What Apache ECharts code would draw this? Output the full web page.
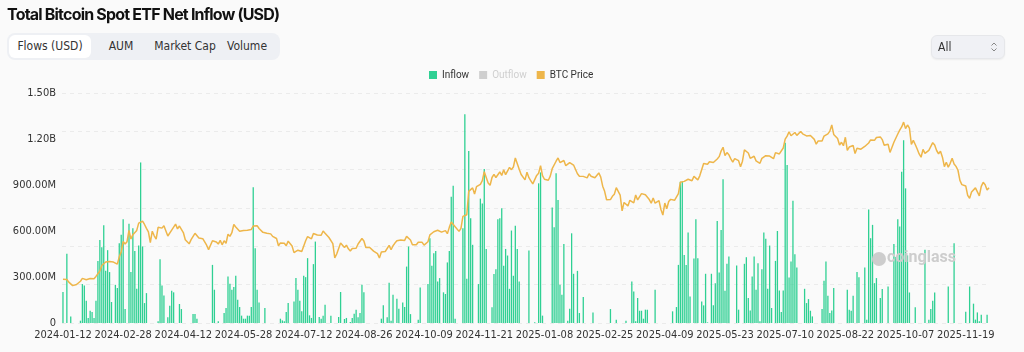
<!DOCTYPE html>
<html>
<head>
<meta charset="utf-8">
<script src="https://cdn.jsdelivr.net/npm/echarts@6/dist/echarts.min.js"></script>
<style>
  html, body { margin: 0; padding: 0; background: #fafafa; width: 1024px; height: 352px; overflow: hidden; font-family: Inter, "Noto Sans", sans-serif; }
  #chart { position: absolute; left: 0; top: 0; width: 1024px; height: 352px; }
  .title { position: absolute; left: 7px; top: 4px; font-size: 16px; font-weight: 700; color: #111; letter-spacing: -0.8px; z-index: 2; }
  .tabs { position: absolute; left: 7px; top: 33px; width: 273px; height: 27px; background: #eef0f4; border-radius: 8px; z-index: 2; }
  .tab { position: absolute; top: 2px; height: 23px; line-height: 23px; font-size: 12px; color: #333; text-align: center; font-family: "Liberation Sans Narrow", "DejaVu Sans Condensed", Roboto, sans-serif; }
  .tab.sel { background: #fff; border-radius: 6px; }
  .dd { position: absolute; left: 931px; top: 35px; width: 72px; height: 22px; background: #f0f1f5; border: 1px solid #e6e7ea; border-radius: 6px; z-index: 2; box-shadow: 0 1px 2px rgba(0,0,0,0.06); }
  .dd span { position: absolute; left: 6px; top: 0; line-height: 22px; font-size: 12px; color: #333; font-family: "Liberation Sans Narrow", "DejaVu Sans Condensed", Roboto, sans-serif; }
  .dd svg { position: absolute; left: 58px; top: 5px; }
</style>
</head>
<body>
<div id="chart"></div>
<div class="title">Total Bitcoin Spot ETF Net Inflow (USD)</div>
<div class="tabs">
  <div class="tab sel" style="left:2px;width:82px;">Flows (USD)</div>
  <div class="tab" style="left:90px;width:48px;">AUM</div>
  <div class="tab" style="left:145px;width:66px;">Market Cap</div>
  <div class="tab" style="left:215px;width:50px;">Volume</div>
</div>
<div class="dd"><span>All</span>
  <svg width="8" height="12" viewBox="0 0 8 12"><path d="M1.5 4.5 L4 2 L6.5 4.5 M1.5 7.5 L4 10 L6.5 7.5" stroke="#888" stroke-width="1" fill="none"/></svg>
</div>
<script>
// ---------- data ----------
const startDate = '2024-01-12';
const endDate = '2025-12-08';
const marketHolidays = ['2024-01-15','2024-02-19','2024-03-29','2024-05-27','2024-06-19','2024-07-04','2024-09-02','2024-11-28','2024-12-25',
  '2025-01-01','2025-01-09','2025-01-20','2025-02-17','2025-04-18','2025-05-26','2025-06-19','2025-07-04','2025-09-01','2025-11-27'];

// daily net inflow, millions USD (outflow days = 0 here; Outflow series is hidden in the reference)
const inflowM2024 = [
  202,0,451,0,43,0,0,0,0,15,
  254,245,145,33,80,72,33,145,405,542,
  494,637,340,475,332,137,0,249,228,520,
  575,676,91,0,648,332,618,470,223,505,
  1047,499,130,195,0,0,0,0,0,11,
  416,245,180,0,37,113,210,200,0,0,
  124,91,0,0,0,0,0,58,58,28,
  0,0,0,0,0,0,0,379,217,0,
  11,0,0,65,98,304,256,217,234,308,
  152,104,48,28,28,48,48,104,885,488,
  217,134,0,0,98,0,0,0,0,0,
  0,0,28,17,11,72,130,0,0,141,
  293,217,145,76,308,299,423,50,33,384,
  531,0,39,28,48,119,0,0,48,0,
  0,0,39,202,0,26,33,0,7,33,
  61,87,37,65,249,200,0,0,0,0,
  0,0,0,0,28,115,0,37,262,15,
  184,0,158,93,0,134,104,368,499,58,
  0,0,0,22,232,0,0,0,254,553,
  373,455,470,271,293,0,200,189,395,470,
  824,895,28,0,0,0,618,1362,288,1121,
  683,510,0,0,254,811,780,1004,483,0,
  0,102,319,351,676,683,748,373,483,440,
  223,603,308,635,483,271,0,0,0,0,
  473,0,0,5
];
const inflowM2025 = [
  0,911,982,48,0,0,0,0,754,624,
  976,802,249,184,516,0,15,93,585,321,
  0,340,65,0,169,0,0,0,0,69,
  0,0,0,0,0,0,0,0,91,0,
  0,22,0,0,0,0,15,0,0,271,
  206,11,163,80,80,28,87,87,0,0,
  0,217,0,0,0,0,0,0,0,0,
  76,0,104,379,921,921,444,379,590,173,
  0,421,676,423,0,141,115,321,4,0,
  321,115,260,666,330,607,937,210,386,434,
  0,0,0,375,87,0,0,386,429,163,
  82,304,434,217,390,11,351,590,549,223,
  505,98,0,405,600,212,72,212,1175,1030,
  297,401,798,449,362,0,0,0,223,130,
  156,80,43,0,0,0,0,91,275,401,
  178,65,82,228,0,0,0,0,0,0,
  217,87,80,178,0,332,299,0,0,362,
  22,741,553,640,260,293,0,163,221,0,
  0,238,0,0,516,430,676,629,986,1192,
  878,441,199,0,0,102,0,0,0,0,
  477,0,22,91,145,199,0,0,0,0,
  0,0,238,0,0,520,0,0,0,0,
  0,74,0,238,0,126,22,69,11,54,
  0,0,54,0
];
const outflowM = []; // not shown (legend item deselected)

// BTC price, thousands USD, one value per trading day
const btcK2024 = [
  42.8,43.1,42.7,41.3,41.6,39.5,39.8,40.1,40.0,41.8,43.3,43.0,42.6,
  43.1,43.2,42.7,43.1,44.3,45.3,47.1,50.0,49.7,51.8,52.0,52.1,52.3,51.8,51.3,50.7,54.5,57.1,62.5,61.2,
  62.4,68.3,63.8,66.1,66.9,68.3,72.1,71.5,73.1,71.4,69.4,67.6,62.0,67.9,65.5,63.8,69.9,69.9,69.5,70.7,
  69.7,65.4,66.0,68.5,67.8,71.6,69.1,70.6,70.0,67.2,63.4,63.8,61.3,63.5,63.8,66.8,66.4,64.3,64.5,64.0,63.4,60.6,
  58.3,59.1,62.9,63.2,62.3,61.2,63.1,60.8,62.9,61.6,66.3,65.2,67.1,71.4,70.1,69.1,67.9,68.5,68.3,67.6,68.4,67.5,
  68.8,70.6,71.1,70.8,69.3,69.6,67.3,68.2,66.8,66.0,66.5,65.2,64.9,64.1,60.3,61.8,60.9,61.6,60.3,
  62.7,62.0,60.2,56.7,57.0,58.0,57.7,57.3,57.9,62.9,65.1,64.1,63.9,66.7,67.6,65.9,65.4,65.8,68.0,66.8,66.2,64.6,
  65.4,61.4,54.0,56.0,55.0,61.7,60.9,59.4,60.6,58.7,57.6,58.9,59.5,59.0,61.2,60.4,64.1,62.8,59.4,59.0,59.4,59.1,
  57.5,58.0,56.2,53.9,57.0,57.6,57.3,58.1,60.5,58.2,60.3,61.7,62.9,63.2,63.3,64.3,63.1,65.2,65.8,63.3,
  60.8,60.6,60.8,62.1,62.2,62.1,60.6,60.3,62.4,66.0,67.0,67.6,67.4,68.4,67.4,67.4,66.6,68.2,66.6,69.9,72.7,72.3,70.2,
  69.5,67.8,69.4,75.6,75.9,76.5,88.7,88.0,90.5,87.3,91.1,90.5,92.3,94.3,98.9,98.9,93.0,91.9,95.9,97.5,
  95.9,96.0,98.8,97.0,99.9,97.4,96.7,101.2,100.0,101.4,106.1,106.1,100.2,97.5,97.8,94.7,98.7,95.8,94.2,92.6,93.4
];
const btcK2025 = [
  97.0,98.1,102.1,96.9,95.0,94.7,94.5,96.6,100.5,99.8,104.4,106.1,103.7,104.0,104.8,102.1,101.3,103.7,104.7,102.4,
  101.4,97.9,96.6,96.6,96.5,97.4,95.7,97.9,96.6,97.5,95.8,96.6,98.3,96.1,91.4,88.7,84.3,84.7,84.4,
  86.1,87.2,90.6,89.9,86.7,78.5,82.9,83.7,81.1,84.0,84.1,82.7,86.8,84.2,84.0,87.5,87.4,86.9,87.2,84.4,82.5,
  85.2,82.5,83.1,83.8,79.2,76.3,82.6,79.6,83.4,84.5,83.6,84.0,84.9,87.5,93.4,93.7,93.9,94.7,95.0,94.3,94.2,
  96.5,96.9,94.7,96.8,97.0,103.2,102.9,102.8,104.1,103.5,103.7,103.5,105.6,106.8,109.7,111.7,107.3,108.9,107.8,105.6,103.9,
  105.8,105.4,104.7,101.5,104.4,110.3,110.2,108.7,105.9,106.1,107.0,104.6,104.9,103.3,105.9,105.9,107.3,106.9,107.1,107.1,
  105.7,108.9,109.6,108.2,108.9,111.3,115.9,117.5,119.8,117.7,118.7,119.4,117.9,117.4,119.9,118.7,118.3,117.6,117.9,117.8,117.8,115.8,
  113.3,115.0,114.1,115.0,117.5,116.7,118.7,120.1,123.3,118.4,117.4,116.3,112.9,114.3,112.5,116.9,110.1,111.8,111.3,112.6,108.4,
  111.2,111.7,110.7,110.7,112.1,111.5,113.9,115.5,116.1,115.3,116.8,116.5,117.1,115.7,112.7,112.0,113.3,109.0,109.7,114.3,114.1,
  118.6,120.6,122.3,124.8,121.4,123.3,121.7,113.2,115.3,113.1,110.8,108.2,106.5,110.6,108.5,107.6,110.1,111.0,114.1,112.9,110.0,108.3,109.6,
  106.5,101.6,103.9,101.3,103.3,105.9,103.0,101.7,99.7,94.4,92.2,92.9,91.5,86.6,85.1,88.3,87.4,90.5,90.9,
  86.3,91.3,93.4,92.1,89.4,90.6
];

// ---------- build categories (US trading days) ----------
function tradingDays(start, end, holidays) {
  const out = [];
  const hol = new Set(holidays);
  const d = new Date(start + 'T00:00:00Z');
  const e = new Date(end + 'T00:00:00Z');
  while (d <= e) {
    const wd = d.getUTCDay();
    const s = d.toISOString().slice(0, 10);
    if (wd !== 0 && wd !== 6 && !hol.has(s)) out.push(s);
    d.setUTCDate(d.getUTCDate() + 1);
  }
  return out;
}
const dates = tradingDays(startDate, endDate, marketHolidays);
const inflow = inflowM2024.concat(inflowM2025).map(v => v * 1e6);
const btcPrice = btcK2024.concat(btcK2025).map(v => v * 1000);

function fmtUSD(v) {
  if (v === 0) return '0';
  if (Math.abs(v) >= 1e9) return (v / 1e9).toFixed(2) + 'B';
  return (v / 1e6).toFixed(2) + 'M';
}

const axisFont = '"Liberation Sans Narrow", "DejaVu Sans Condensed", Roboto, sans-serif';
const chart = echarts.init(document.getElementById('chart'), null, { renderer: 'canvas' });
chart.setOption({
  animation: false,
  textStyle: { fontFamily: 'Roboto, "Noto Sans", sans-serif' },
  legend: {
    top: 65, left: 424,
    itemWidth: 8, itemHeight: 8, itemGap: 10, icon: 'rect',
    textStyle: { fontSize: 10, color: '#333', fontFamily: 'Roboto, sans-serif' },
    inactiveColor: '#cfcfcf',
    data: ['Inflow', 'Outflow', 'BTC Price'],
    selected: { 'Outflow': false }
  },
  grid: { left: 62, right: 34, top: 93, bottom: 29 },
  xAxis: {
    type: 'category', data: dates,
    axisLine: { show: false }, axisTick: { show: false },
    axisLabel: { interval: 30, showMinLabel: true, margin: 7, fontSize: 11, color: '#333', fontFamily: axisFont }
  },
  yAxis: [
    { type: 'value', min: 0, max: 1.5e9, interval: 3e8,
      splitLine: { show: false }, axisLine: { show: false }, axisTick: { show: false },
      axisLabel: { formatter: fmtUSD, fontSize: 11, color: '#333', margin: 6, fontFamily: axisFont } },
    { type: 'value', min: 20000, max: 140000, interval: 20000, position: 'right',
      axisLabel: { show: false }, axisLine: { show: false }, axisTick: { show: false },
      splitLine: { show: true, lineStyle: { type: [4, 4], color: '#ebebeb', width: 1 } } }
  ],
  series: [
    { name: 'Inflow', type: 'bar', data: inflow, yAxisIndex: 0, barWidth: 1.3,
      itemStyle: { color: '#2fd093' }, z: 2 },
    { name: 'Outflow', type: 'bar', data: outflowM, yAxisIndex: 0, barWidth: 1.3,
      itemStyle: { color: '#f0616d' } },
    { name: 'BTC Price', type: 'line', data: btcPrice, yAxisIndex: 1, showSymbol: false, symbol: 'none',
      lineStyle: { color: '#eeb64a', width: 1.5 }, itemStyle: { color: '#eeb64a' }, z: 3 }
  ],
  graphic: [
    { type: 'circle', shape: { cx: 879, cy: 259, r: 7 }, style: { fill: '#cdcdcd' }, z: 10 },
    { type: 'text', left: 887, top: 250, style: { text: 'coinglass', fill: '#cdcdcd', font: 'bold 16px Roboto, sans-serif' }, z: 10 }
  ]
});
</script>
</body>
</html>
